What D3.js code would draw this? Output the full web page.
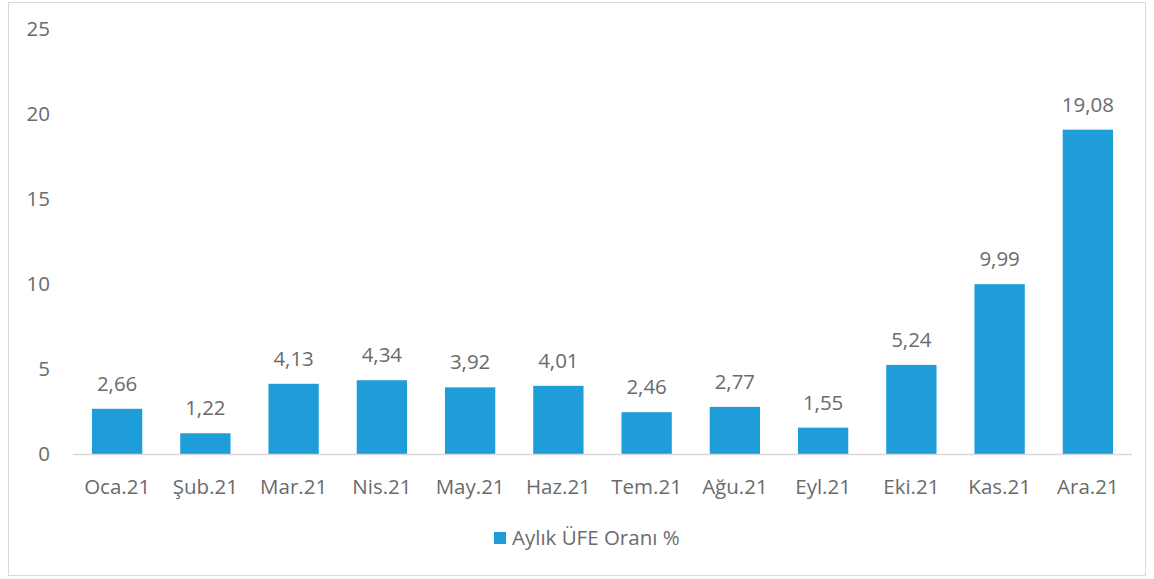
<!DOCTYPE html>
<html>
<head>
<meta charset="utf-8">
<script src="https://cdn.jsdelivr.net/npm/d3@7"></script>
<style>
  body { margin: 0; background: #fff; }
  text { font-family: "Open Sans", sans-serif; fill: #6b6b6b; }
</style>
</head>
<body>
<svg id="chart" width="1154" height="579"></svg>
<script>
// monthly PPI values, 2021
const months = ["Oca.21", "Şub.21", "Mar.21", "Nis.21", "May.21", "Haz.21",
                "Tem.21", "Ağu.21", "Eyl.21", "Eki.21", "Kas.21", "Ara.21"];
const values = [2.66, 1.22, 4.13, 4.34, 3.92, 4.01, 2.46, 2.77, 1.55, 5.24, 9.99, 19.08];
const yTicks = [0, 5, 10, 15, 20, 25];
const seriesName = "Aylık ÜFE Oranı %";

const svg = d3.select("#chart");
const barColor = "#1f9dd9";
const fs = 20.5;

// outer frame
svg.append("rect")
  .attr("x", 8.5).attr("y", 2.5)
  .attr("width", 1137).attr("height", 573)
  .attr("fill", "none").attr("stroke", "#d9d9d9");

const x = d3.scaleBand().domain(months).range([73, 1132]).paddingInner(0.43).paddingOuter(0.215);
const y = d3.scaleLinear().domain([0, 25]).range([454, 29]);

// y labels (no axis line)
svg.append("g")
  .selectAll("text")
  .data(yTicks)
  .join("text")
  .attr("x", 50)
  .attr("y", d => y(d))
  .attr("dy", "0.35em")
  .attr("text-anchor", "end")
  .attr("font-size", fs)
  .text(d => d);

// bars
svg.append("g")
  .selectAll("rect")
  .data(values)
  .join("rect")
  .attr("x", (d, i) => x(months[i]))
  .attr("y", d => y(d))
  .attr("width", x.bandwidth())
  .attr("height", d => y(0) - y(d))
  .attr("fill", barColor);

// baseline
svg.append("line")
  .attr("x1", 73).attr("x2", 1132)
  .attr("y1", y(0) + 0.5).attr("y2", y(0) + 0.5)
  .attr("stroke", "#d9d9d9").attr("stroke-width", 1.5);

// value labels
svg.append("g")
  .selectAll("text")
  .data(values)
  .join("text")
  .attr("x", (d, i) => x(months[i]) + x.bandwidth() / 2)
  .attr("y", d => y(d) - 18)
  .attr("text-anchor", "middle")
  .attr("font-size", fs)
  .text(d => d3.format(".2f")(d).replace(".", ","));

// category labels
svg.append("g")
  .selectAll("text")
  .data(months)
  .join("text")
  .attr("x", d => x(d) + x.bandwidth() / 2)
  .attr("y", 487)
  .attr("dy", "0.35em")
  .attr("text-anchor", "middle")
  .attr("font-size", fs)
  .text(d => d);

// legend
const lg = svg.append("g").attr("transform", "translate(494,532)");
lg.append("rect").attr("width", 12).attr("height", 12).attr("fill", barColor);
lg.append("text").attr("x", 18).attr("y", 6).attr("dy", "0.35em")
  .attr("font-size", fs).text(seriesName);
</script>
</body>
</html>
